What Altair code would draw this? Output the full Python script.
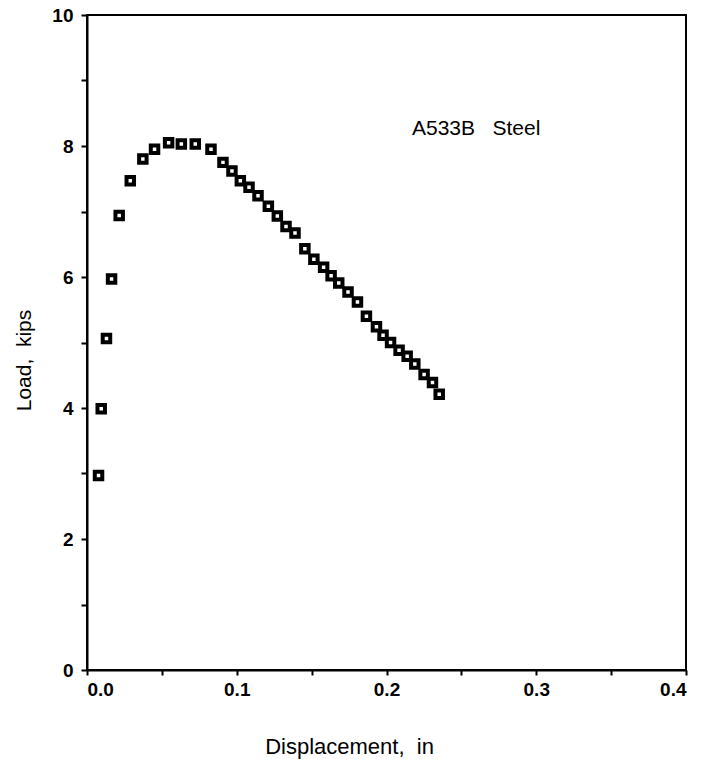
import altair as alt
import pandas as pd

displacement = [0.0077, 0.0095, 0.0130, 0.0164, 0.0215, 0.0289, 0.0373, 0.0451,
                0.0545, 0.0630, 0.0723, 0.0828, 0.0908, 0.0968, 0.1024, 0.1082,
                0.1142, 0.1211, 0.1271, 0.1329, 0.1389, 0.1455, 0.1515, 0.1580,
                0.1630, 0.1681, 0.1743, 0.1806, 0.1866, 0.1933, 0.1977, 0.2027,
                0.2084, 0.2138, 0.2189, 0.2251, 0.2307, 0.2352]
load = [2.97, 3.99, 5.06, 5.97, 6.94, 7.47, 7.80, 7.95,
        8.05, 8.03, 8.03, 7.95, 7.75, 7.62, 7.47, 7.37,
        7.24, 7.08, 6.93, 6.77, 6.67, 6.43, 6.27, 6.15,
        6.02, 5.91, 5.77, 5.62, 5.40, 5.24, 5.11, 5.00,
        4.88, 4.79, 4.67, 4.51, 4.39, 4.21]

x_ticks = [0.0, 0.05, 0.1, 0.15, 0.2, 0.25, 0.3, 0.35, 0.4]
y_ticks = [0, 1, 2, 3, 4, 5, 6, 7, 8, 9, 10]

label_text = ["A533B\u00a0\u00a0\u00a0Steel"]
label_x = [0.217]
label_y = [8.26]

df = pd.DataFrame({"d": displacement, "l": load})
ann = pd.DataFrame({"d": label_x, "l": label_y, "t": label_text})

FONT = "Liberation Sans"

xscale = alt.Scale(domain=[0, 0.4], nice=False, zero=False)
yscale = alt.Scale(domain=[0, 10], nice=False)

xaxis = alt.Axis(
    values=x_ticks, format=".2f",
    labelExpr="abs(datum.value*10 - round(datum.value*10)) < 0.001 ? format(datum.value, '.1f') : ''",
    title="Displacement,\u00a0\u00a0in",
    orient="bottom", tickSize=5, tickWidth=2, domainWidth=2,
    domainColor="black", tickColor="black", labelColor="black",
    labelFont=FONT, labelFontSize=19, labelFontWeight="bold", labelPadding=5,
    titleFont=FONT, titleFontSize=22, titleFontWeight="normal",
    titleColor="black", titleX=262, titleY=76, titleBaseline="middle",
    titleAlign="center", grid=False)

yaxis = alt.Axis(
    values=y_ticks,
    labelExpr="datum.value % 2 == 0 ? format(datum.value, 'd') : ''",
    title="Load,\u00a0\u00a0kips",
    orient="left", tickSize=6, tickWidth=2, domainWidth=2,
    domainColor="black", tickColor="black", labelColor="black",
    labelFont=FONT, labelFontSize=19, labelFontWeight="bold", labelPadding=8,
    titleFont=FONT, titleFontSize=21, titleFontWeight="normal",
    titleColor="black", titleX=-63, titleY=345, titleBaseline="middle",
    titleAlign="center", titleAngle=270, grid=False)

points = alt.Chart(df).mark_square(
    size=56, filled=True, fill="white", stroke="black", strokeWidth=4, opacity=1
).encode(
    x=alt.X("d:Q", scale=xscale, axis=xaxis),
    y=alt.Y("l:Q", scale=yscale, axis=yaxis),
)

text = alt.Chart(ann).mark_text(
    align="left", baseline="middle", font=FONT, fontSize=21, color="black"
).encode(
    x=alt.X("d:Q", scale=xscale, axis=xaxis),
    y=alt.Y("l:Q", scale=yscale, axis=yaxis),
    text="t:N",
)

chart = alt.layer(points, text).properties(
    width=599, height=655,
    padding={"left": 87, "top": 15, "right": 15, "bottom": 89},
    autosize=alt.AutoSizeParams(type="none"),
    background="white",
).configure_view(stroke="black", strokeWidth=2)

chart.save("out.html", embed_options={"renderer": "svg", "actions": False})
